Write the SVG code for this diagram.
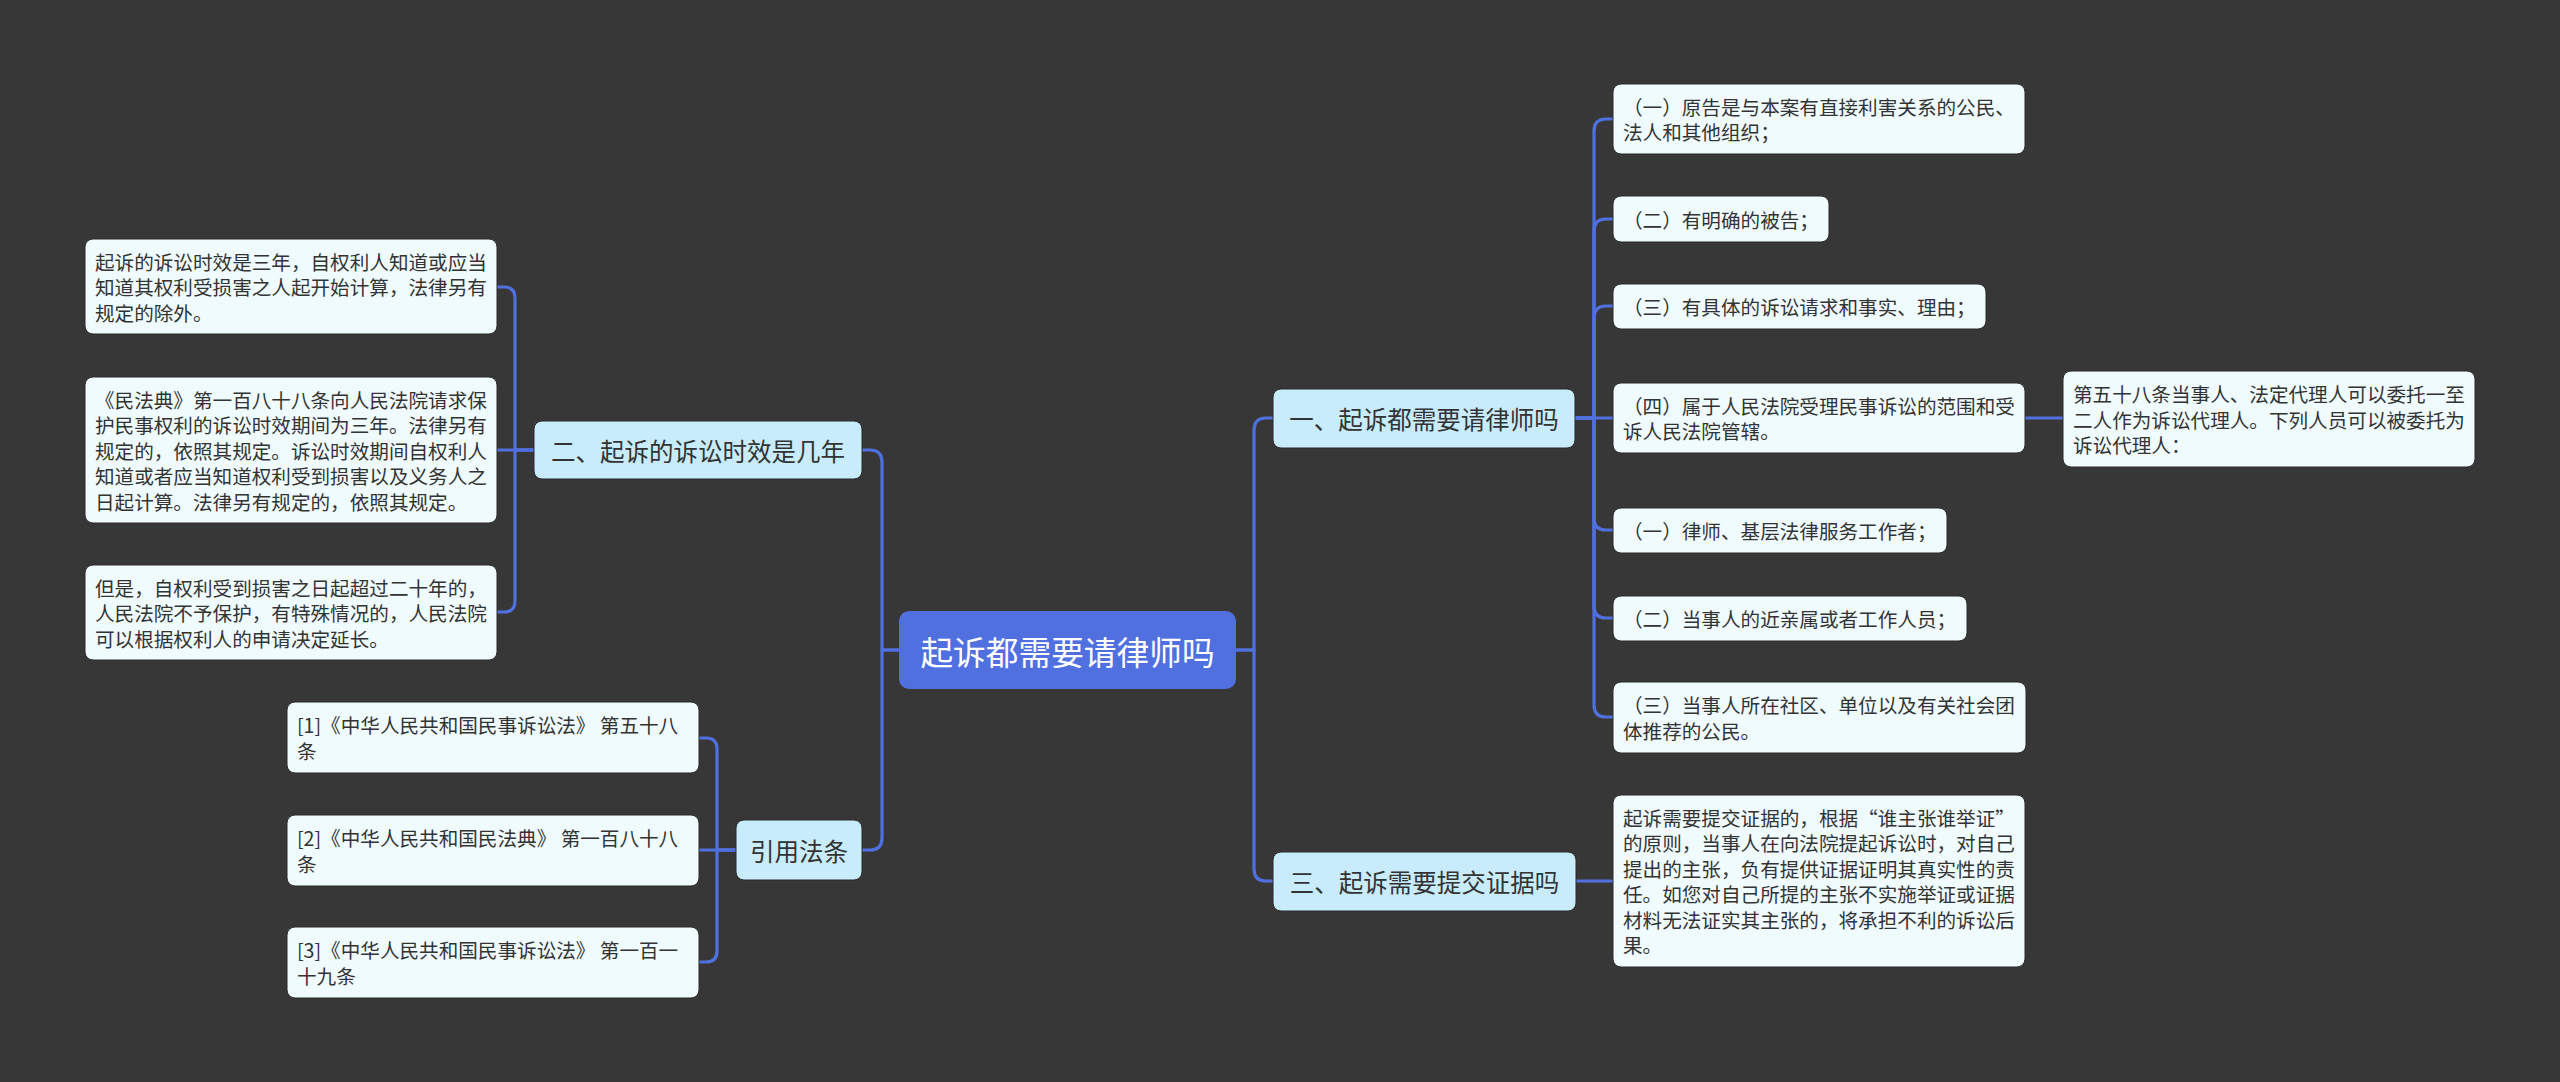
<svg xmlns="http://www.w3.org/2000/svg" width="2560" height="1082" viewBox="0 0 2560 1082">
<style>
.bg{fill:#383738}
.leaf{fill:#f0fbfe;stroke:#2a2a2a;stroke-width:1}
.branch{fill:#c8ecfb;stroke:#2a2a2a;stroke-width:1}
.root{fill:#5070e0}
.conn{fill:none;stroke:#5070e0;stroke-width:3.2;stroke-linecap:round;stroke-linejoin:round}
text{font-family:"Noto Sans CJK SC","Noto Sans",sans-serif;dominant-baseline:central;fill:#333333}
.t{font-size:19.6px}
.b{font-size:24.5px;text-anchor:middle}
.r{font-size:32.7px;text-anchor:middle;fill:#ffffff}
</style>
<rect class="bg" x="0" y="0" width="2560" height="1082"/>
<g id="connectors">
<path class="conn" d="M899,650 H882 V462 Q882,450 870,450 H862"/>
<path class="conn" d="M899,650 H882 V838 Q882,850 870,850 H862"/>
<path class="conn" d="M1236,650 H1254 V430 Q1254,418 1266,418 H1273"/>
<path class="conn" d="M1236,650 H1254 V869 Q1254,881 1266,881 H1273"/>
<path class="conn" d="M534,450 H515 V298 Q515,287 504,287 H497"/>
<path class="conn" d="M534,450 H497"/>
<path class="conn" d="M534,450 H515 V601 Q515,612 504,612 H497"/>
<path class="conn" d="M736,850 H717 V749 Q717,738 706,738 H699"/>
<path class="conn" d="M736,850 H699"/>
<path class="conn" d="M736,850 H717 V951 Q717,962 706,962 H699"/>
<path class="conn" d="M1575,418 H1594 V131 Q1594,119 1606,119 H1613"/>
<path class="conn" d="M1575,418 H1594 V231 Q1594,219 1606,219 H1613"/>
<path class="conn" d="M1575,418 H1594 V318 Q1594,306 1606,306 H1613"/>
<path class="conn" d="M1575,418 H1613"/>
<path class="conn" d="M1575,418 H1594 V518 Q1594,530 1606,530 H1613"/>
<path class="conn" d="M1575,418 H1594 V606 Q1594,618 1606,618 H1613"/>
<path class="conn" d="M1575,418 H1594 V705 Q1594,717 1606,717 H1613"/>
<path class="conn" d="M2025,418 H2063"/>
<path class="conn" d="M1576,881 H1613"/>
</g>
<g id="root">
<rect class="root" x="899" y="611" width="337" height="78" rx="10"/>
<text class="r" x="1067.5" y="650">起诉都需要请律师吗</text>
</g>
<g id="b2">
<rect class="branch" x="534" y="421" width="328" height="58" rx="8"/>
<text class="b" x="698" y="450">二、起诉的诉讼时效是几年</text>
</g>
<g id="b4">
<rect class="branch" x="736" y="820" width="126" height="60" rx="8"/>
<text class="b" x="799" y="850">引用法条</text>
</g>
<g id="b1">
<rect class="branch" x="1273" y="389" width="302" height="59" rx="8"/>
<text class="b" x="1424" y="418.5">一、起诉都需要请律师吗</text>
</g>
<g id="b3">
<rect class="branch" x="1273" y="852" width="303" height="59" rx="8"/>
<text class="b" x="1424.5" y="881.5">三、起诉需要提交证据吗</text>
</g>
<g id="l1">
<rect class="leaf" x="85" y="239" width="412" height="95" rx="8"/>
<text class="t" x="95" y="261">起诉的诉讼时效是三年，自权利人知道或应当</text>
<text class="t" x="95" y="286.5">知道其权利受损害之人起开始计算，法律另有</text>
<text class="t" x="95" y="312">规定的除外。</text>
</g>
<g id="l2">
<rect class="leaf" x="85" y="377" width="412" height="146" rx="8"/>
<text class="t" x="95" y="399">《民法典》第一百八十八条向人民法院请求保</text>
<text class="t" x="95" y="424.5">护民事权利的诉讼时效期间为三年。法律另有</text>
<text class="t" x="95" y="450">规定的，依照其规定。诉讼时效期间自权利人</text>
<text class="t" x="95" y="475.5">知道或者应当知道权利受到损害以及义务人之</text>
<text class="t" x="95" y="501">日起计算。法律另有规定的，依照其规定。</text>
</g>
<g id="l3">
<rect class="leaf" x="85" y="565" width="412" height="95" rx="8"/>
<text class="t" x="95" y="587">但是，自权利受到损害之日起超过二十年的，</text>
<text class="t" x="95" y="612.5">人民法院不予保护，有特殊情况的，人民法院</text>
<text class="t" x="95" y="638">可以根据权利人的申请决定延长。</text>
</g>
<g id="ref1">
<rect class="leaf" x="287" y="702" width="412" height="71" rx="8"/>
<text class="t" x="297" y="724.75">[1]《中华人民共和国民事诉讼法》 第五十八</text>
<text class="t" x="297" y="750.25">条</text>
</g>
<g id="ref2">
<rect class="leaf" x="287" y="815" width="412" height="71" rx="8"/>
<text class="t" x="297" y="837.75">[2]《中华人民共和国民法典》 第一百八十八</text>
<text class="t" x="297" y="863.25">条</text>
</g>
<g id="ref3">
<rect class="leaf" x="287" y="927" width="412" height="71" rx="8"/>
<text class="t" x="297" y="949.75">[3]《中华人民共和国民事诉讼法》 第一百一</text>
<text class="t" x="297" y="975.25">十九条</text>
</g>
<g id="r1">
<rect class="leaf" x="1613" y="84" width="412" height="70" rx="8"/>
<text class="t" x="1623" y="106.25">（一）原告是与本案有直接利害关系的公民、</text>
<text class="t" x="1623" y="131.75">法人和其他组织；</text>
</g>
<g id="r2">
<rect class="leaf" x="1613" y="196" width="216" height="46" rx="8"/>
<text class="t" x="1623" y="219">（二）有明确的被告；</text>
</g>
<g id="r3">
<rect class="leaf" x="1613" y="284" width="373" height="45" rx="8"/>
<text class="t" x="1623" y="306.5">（三）有具体的诉讼请求和事实、理由；</text>
</g>
<g id="r4">
<rect class="leaf" x="1613" y="383" width="412" height="70" rx="8"/>
<text class="t" x="1623" y="405.25">（四）属于人民法院受理民事诉讼的范围和受</text>
<text class="t" x="1623" y="430.75">诉人民法院管辖。</text>
</g>
<g id="r4c">
<rect class="leaf" x="2063" y="371" width="412" height="96" rx="8"/>
<text class="t" x="2073" y="393.5">第五十八条当事人、法定代理人可以委托一至</text>
<text class="t" x="2073" y="419">二人作为诉讼代理人。下列人员可以被委托为</text>
<text class="t" x="2073" y="444.5">诉讼代理人：</text>
</g>
<g id="r5">
<rect class="leaf" x="1613" y="508" width="334" height="45" rx="8"/>
<text class="t" x="1623" y="530.5">（一）律师、基层法律服务工作者；</text>
</g>
<g id="r6">
<rect class="leaf" x="1613" y="596" width="354" height="45" rx="8"/>
<text class="t" x="1623" y="618.5">（二）当事人的近亲属或者工作人员；</text>
</g>
<g id="r7">
<rect class="leaf" x="1613" y="682" width="413" height="71" rx="8"/>
<text class="t" x="1623" y="704.75">（三）当事人所在社区、单位以及有关社会团</text>
<text class="t" x="1623" y="730.25">体推荐的公民。</text>
</g>
<g id="r8">
<rect class="leaf" x="1613" y="795" width="412" height="172" rx="8"/>
<text class="t" x="1623" y="817.25">起诉需要提交证据的，根据“谁主张谁举证”</text>
<text class="t" x="1623" y="842.75">的原则，当事人在向法院提起诉讼时，对自己</text>
<text class="t" x="1623" y="868.25">提出的主张，负有提供证据证明其真实性的责</text>
<text class="t" x="1623" y="893.75">任。如您对自己所提的主张不实施举证或证据</text>
<text class="t" x="1623" y="919.25">材料无法证实其主张的，将承担不利的诉讼后</text>
<text class="t" x="1623" y="944.75">果。</text>
</g>
</svg>
